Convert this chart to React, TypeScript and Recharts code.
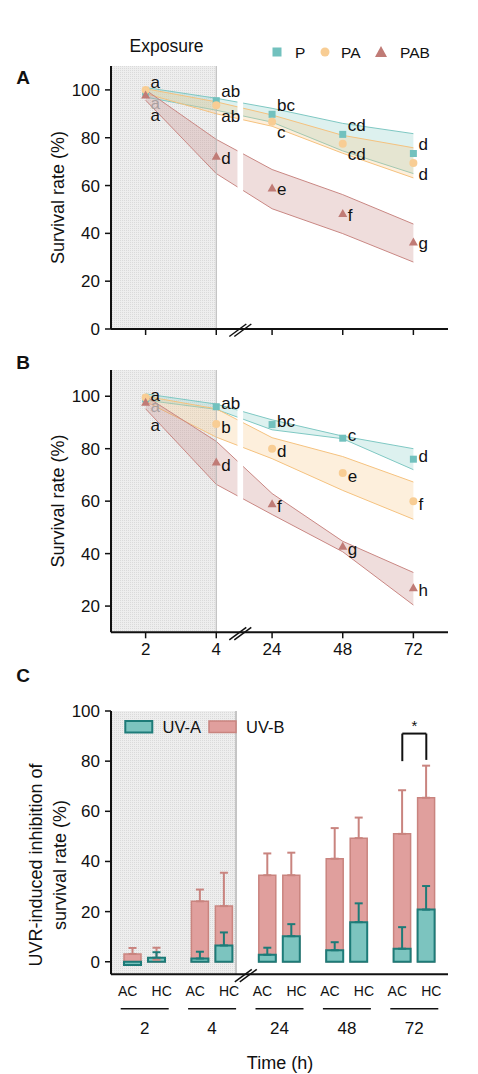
import React from 'react';
import {
  ComposedChart,
  Area,
  Scatter,
  Bar,
  ErrorBar,
  XAxis,
  YAxis,
  ReferenceArea,
  ReferenceLine,
  ReferenceDot,
} from 'recharts';

const FONT = '"Liberation Sans", Arial, sans-serif';
const INK = '#111';

// time points, and where they sit on the broken axis (4 -> 24 is compressed)
const hours = ['2', '4', '24', '48', '72'];
const hourPos = [0, 1, 1.79, 2.79, 3.79];

// Panel A
const pMeanA = [99, 95.5, 89.8, 81.4, 73.4];
const pLowA = [97, 91.5, 86.5, 74.5, 65];
const pHighA = [101, 96.5, 92.3, 86, 81.7];
const paMeanA = [100, 93.6, 86.7, 77.5, 69.4];
const paLowA = [98.5, 90, 84.8, 73.5, 63.2];
const paHighA = [100.5, 95, 89.5, 81, 75.8];
const pabMeanA = [97.9, 72.3, 59, 48.3, 36.4];
const pabLowA = [95.7, 65, 50.3, 39.9, 28];
const pabHighA = [100, 79.3, 66.7, 56.2, 43.9];
const pLettersA = ['a', 'ab', 'bc', 'cd', 'd'];
const paLettersA = ['a', 'ab', 'c', 'cd', 'd'];
const pabLettersA = ['a', 'd', 'e', 'f', 'g'];

// Panel B
const pMeanB = [99, 96, 89.2, 84, 76];
const pLowB = [98.5, 95, 87.2, 83.8, 72];
const pHighB = [100.9, 97, 91, 84.8, 80];
const paMeanB = [99.5, 89.4, 80, 70.7, 60];
const paLowB = [98, 84.4, 76.2, 64.1, 53.1];
const paHighB = [100, 95.2, 84.2, 77, 67.3];
const pabMeanB = [97.7, 74.9, 59, 42.8, 27];
const pabLowB = [95.2, 66.4, 54.9, 40.7, 20.4];
const pabHighB = [100, 82.8, 62.9, 44.7, 32.8];
const pLettersB = ['a', 'ab', 'bc', 'c', 'd'];
const paLettersB = ['a', 'b', 'd', 'e', 'f'];
const pabLettersB = ['a', 'd', 'f', 'g', 'h'];

// Panel C
const groups = ['2', '4', '24', '48', '72'];
const uvbAC = [3.1, 24.1, 34.5, 41.1, 51];
const uvbACErr = [2.4, 4.7, 8.7, 12.2, 17.4];
const uvbHC = [0.8, 22.2, 34.5, 49.3, 65.4];
const uvbHCErr = [4.8, 13.3, 9, 8.2, 12.8];
const uvaAC = [-1.3, 1.3, 2.8, 4.6, 5.2];
const uvaACErr = [0, 2.7, 2.8, 3.2, 8.6];
const uvaHC = [1.6, 6.5, 10.2, 15.8, 20.8];
const uvaHCErr = [2.2, 5.2, 4.8, 7.5, 9.4];

const seriesStyle: Record<string, any> = {
  P: { color: '#72c1be', fill: '#8fd0cb', line: '#7fc8c3', shape: 'square' },
  PA: { color: '#f8cd94', fill: '#f8c98c', line: '#f5c27f', shape: 'circle' },
  PAB: { color: '#c07b76', fill: '#c98f8a', line: '#c98783', shape: 'triangle' },
};

const seriesA = [
  { key: 'P', mean: pMeanA, low: pLowA, high: pHighA, letters: pLettersA },
  { key: 'PA', mean: paMeanA, low: paLowA, high: paHighA, letters: paLettersA },
  { key: 'PAB', mean: pabMeanA, low: pabLowA, high: pabHighA, letters: pabLettersA },
];
const seriesB = [
  { key: 'P', mean: pMeanB, low: pLowB, high: pHighB, letters: pLettersB },
  { key: 'PA', mean: paMeanB, low: paLowB, high: paHighB, letters: paLettersB },
  { key: 'PAB', mean: pabMeanB, low: pabLowB, high: pabHighB, letters: pabLettersB },
];

const xDomain: [number, number] = [-0.49, 4.28];
const gapStart = 1.3;
const gapEnd = 1.38;

function Marker({ kind, cx, cy, color }: any) {
  if (kind === 'square') return <rect x={cx - 3.5} y={cy - 3.5} width={7} height={7} fill={color} />;
  if (kind === 'circle') return <circle cx={cx} cy={cy} r={4} fill={color} />;
  return <polygon points={`${cx},${cy - 4.5} ${cx + 4.5},${cy + 3.5} ${cx - 4.5},${cy + 3.5}`} fill={color} />;
}

function makeShape(key: string, dy: number, dyFirst: number) {
  return (props: any) => {
    const { cx, cy, payload } = props;
    const st = seriesStyle[key];
    const first = payload.i === 0;
    // the PA letter at 2 h sits under the PAB band in the original, so it reads faded
    const faded = first && key === 'PA';
    return (
      <g>
        <Marker kind={st.shape} cx={cx} cy={cy} color={st.color} />
        <text
          x={cx + 5}
          y={cy + (first ? dyFirst : dy)}
          dominantBaseline="central"
          fontSize={17}
          fill={faded ? '#a9a0a0' : INK}
        >
          {payload[key + 'Letter']}
        </text>
      </g>
    );
  };
}

const BreakMark = (props: any) => {
  const { cx, cy } = props;
  return (
    <g stroke={INK} strokeWidth={1.5}>
      <line x1={cx - 11} y1={cy + 7.5} x2={cx + 6} y2={cy - 5} />
      <line x1={cx - 6} y1={cy + 7.5} x2={cx + 11} y2={cy - 5} />
    </g>
  );
};

const tickStyle = { fill: INK, fontSize: 17 };
const axisLine = { stroke: INK, strokeWidth: 2 };
const tickLine = { stroke: INK, strokeWidth: 1.5 };

function Dots({ id }: { id: string }) {
  return (
    <defs>
      <pattern id={id} width={2} height={2} patternUnits="userSpaceOnUse">
        <rect width={2} height={2} fill="#eeeeee" />
        <rect width={1} height={1} fill="#dadada" />
      </pattern>
    </defs>
  );
}

function SurvivalPanel({ id, series, yMin, yTicks, showLabels, dy, dyFirst, height, marginTop, marginBottom }: any) {
  const rows = hours.map((h, i) => {
    const r: any = { x: hourPos[i], i, hour: h };
    series.forEach((s: any) => {
      r[s.key] = s.mean[i];
      r[s.key + 'Band'] = [s.low[i], s.high[i]];
      r[s.key + 'Letter'] = s.letters[i];
    });
    return r;
  });
  return (
    <ComposedChart
      width={478}
      height={height}
      data={rows}
      margin={{ top: marginTop, right: 30, bottom: marginBottom, left: 51 }}
    >
      <Dots id={id} />
      <XAxis
        dataKey="x"
        type="number"
        domain={xDomain}
        ticks={hourPos}
        allowDataOverflow
        interval={0}
        height={30}
        tickSize={6}
        tickMargin={5}
        tick={tickStyle}
        axisLine={axisLine}
        tickLine={tickLine}
        tickFormatter={(v: any, i: number) => (showLabels ? hours[i] : '')}
      />
      <YAxis
        type="number"
        domain={[yMin, 110]}
        ticks={yTicks}
        allowDataOverflow
        width={60}
        tickSize={6}
        tickMargin={5}
        tick={tickStyle}
        axisLine={axisLine}
        tickLine={tickLine}
      />
      <ReferenceArea x1={xDomain[0]} x2={1} y1={yMin} y2={110} fill={`url(#${id})`} fillOpacity={1} />
      <ReferenceLine x={1} stroke="#b5b5b5" strokeWidth={1} />
      {series.map((s: any) => (
        <Area
          key={s.key + 'band'}
          dataKey={s.key + 'Band'}
          type="linear"
          stroke={seriesStyle[s.key].line}
          strokeWidth={1}
          fill={seriesStyle[s.key].fill}
          fillOpacity={0.3}
          dot={false}
          activeDot={false}
          isAnimationActive={false}
        />
      ))}
      <ReferenceArea x1={gapStart} x2={gapEnd} y1={yMin + 0.5} y2={110} fill="#ffffff" fillOpacity={1} stroke="none" />
      <ReferenceDot x={(gapStart + gapEnd) / 2} y={yMin} shape={BreakMark} ifOverflow="visible" />
      {series.map((s: any) => (
        <Scatter
          key={s.key}
          dataKey={s.key}
          shape={makeShape(s.key, dy[s.key], dyFirst[s.key])}
          isAnimationActive={false}
        />
      ))}
    </ComposedChart>
  );
}

function GroupTick(props: any) {
  const { x, y, payload } = props;
  return (
    <g transform={`translate(${x},${y})`}>
      <text x={-17} y={17} textAnchor="middle" dominantBaseline="central" fontSize={14} fill={INK}>
        AC
      </text>
      <text x={17} y={17} textAnchor="middle" dominantBaseline="central" fontSize={14} fill={INK}>
        HC
      </text>
      <line x1={-24} x2={24} y1={34.5} y2={34.5} stroke={INK} strokeWidth={1.5} />
      <text x={0} y={54.5} textAnchor="middle" dominantBaseline="central" fontSize={17} fill={INK}>
        {payload.value}
      </text>
    </g>
  );
}

const UVA = { fill: '#7cc4bf', stroke: '#1d7b78' };
const UVB = { fill: '#e09f9d', stroke: '#c9847f' };
const exposureEnd = 1.855; // grey box ends just before the 4 -> 24 break
const pairOffset = 12 / 67.4; // AC/HC bar centres relative to the group centre

function InhibitionPanel() {
  const rows = groups.map((g, i) => ({
    g,
    pos: i + 0.5,
    uvbAC: uvbAC[i],
    uvbACErr: [0, uvbACErr[i]],
    uvbHC: uvbHC[i],
    uvbHCErr: [0, uvbHCErr[i]],
    uvaAC: uvaAC[i],
    uvaACErr: [0, uvaACErr[i]],
    uvaHC: uvaHC[i],
    uvaHCErr: [0, uvaHCErr[i]],
  }));
  const acX = 4.5 - pairOffset;
  const hcX = 4.5 + pairOffset;
  return (
    <ComposedChart
      width={478}
      height={394}
      data={rows}
      barGap={7}
      barSize={17}
      margin={{ top: 31, right: 30, bottom: 29.7, left: 51 }}
    >
      <Dots id="dotsC" />
      <XAxis
        xAxisId="b"
        dataKey="g"
        type="category"
        height={70}
        interval={0}
        tickLine={false}
        tickSize={0}
        tickMargin={0}
        axisLine={axisLine}
        tick={<GroupTick />}
      />
      <XAxis xAxisId="a" dataKey="g" type="category" orientation="top" height={0} hide />
      <XAxis xAxisId="n" dataKey="pos" type="number" domain={[0, 5]} orientation="top" height={0} allowDataOverflow hide />
      <YAxis
        type="number"
        domain={[-5, 100]}
        ticks={[0, 20, 40, 60, 80, 100]}
        allowDataOverflow
        width={60}
        tickSize={6}
        tickMargin={5}
        tick={tickStyle}
        axisLine={axisLine}
        tickLine={tickLine}
      />
      <ReferenceArea xAxisId="n" x1={0} x2={exposureEnd} y1={-5} y2={100} fill="url(#dotsC)" fillOpacity={1} />
      <ReferenceLine xAxisId="n" x={exposureEnd} stroke="#b5b5b5" strokeWidth={1.5} />
      <Bar xAxisId="b" dataKey="uvbAC" barSize={17} fill={UVB.fill} stroke={UVB.stroke} strokeWidth={1.5} isAnimationActive={false}>
        <ErrorBar dataKey="uvbACErr" width={4} stroke={UVB.stroke} strokeWidth={2} direction="y" />
      </Bar>
      <Bar xAxisId="b" dataKey="uvbHC" barSize={17} fill={UVB.fill} stroke={UVB.stroke} strokeWidth={1.5} isAnimationActive={false}>
        <ErrorBar dataKey="uvbHCErr" width={4} stroke={UVB.stroke} strokeWidth={2} direction="y" />
      </Bar>
      <Bar xAxisId="a" dataKey="uvaAC" barSize={17} fill={UVA.fill} stroke={UVA.stroke} strokeWidth={2} isAnimationActive={false}>
        <ErrorBar dataKey="uvaACErr" width={4} stroke={UVA.stroke} strokeWidth={2} direction="y" />
      </Bar>
      <Bar xAxisId="a" dataKey="uvaHC" barSize={17} fill={UVA.fill} stroke={UVA.stroke} strokeWidth={2} isAnimationActive={false}>
        <ErrorBar dataKey="uvaHCErr" width={4} stroke={UVA.stroke} strokeWidth={2} direction="y" />
      </Bar>
      <ReferenceLine xAxisId="n" segment={[{ x: acX, y: 80 }, { x: acX, y: 91 }]} stroke={INK} strokeWidth={2} ifOverflow="visible" />
      <ReferenceLine xAxisId="n" segment={[{ x: acX, y: 91 }, { x: hcX, y: 91 }]} stroke={INK} strokeWidth={2} ifOverflow="visible" />
      <ReferenceLine xAxisId="n" segment={[{ x: hcX, y: 91 }, { x: hcX, y: 80.5 }]} stroke={INK} strokeWidth={2} ifOverflow="visible" />
      <ReferenceDot
        xAxisId="n"
        x={4.5}
        y={96}
        ifOverflow="visible"
        shape={(p: any) => (
          <text x={p.cx} y={p.cy + 4} textAnchor="middle" dominantBaseline="central" fontSize={15} fill={INK}>
            *
          </text>
        )}
      />
      <ReferenceDot xAxisId="n" x={2} y={-5} shape={BreakMark} ifOverflow="visible" />
    </ComposedChart>
  );
}

const legendA = [
  { key: 'P', mx: 277, tx: 295 },
  { key: 'PA', mx: 325, tx: 341 },
  { key: 'PAB', mx: 381, tx: 400 },
];

function Overlay() {
  return (
    <svg
      width={478}
      height={1074}
      style={{ position: 'absolute', left: 0, top: 0, pointerEvents: 'none' }}
      fontFamily={FONT}
    >
      <g fill={INK}>
        <text x={23} y={77} textAnchor="middle" dominantBaseline="central" fontSize={19} fontWeight="bold">A</text>
        <text x={23} y={362} textAnchor="middle" dominantBaseline="central" fontSize={19} fontWeight="bold">B</text>
        <text x={23} y={675} textAnchor="middle" dominantBaseline="central" fontSize={19} fontWeight="bold">C</text>
        <text x={166.5} y={46} textAnchor="middle" dominantBaseline="central" fontSize={17.5}>Exposure</text>
        <text transform="translate(57.5,197.5) rotate(-90)" textAnchor="middle" dominantBaseline="central" fontSize={18}>
          Survival rate (%)
        </text>
        <text transform="translate(58,501) rotate(-90)" textAnchor="middle" dominantBaseline="central" fontSize={18}>
          Survival rate (%)
        </text>
        <text transform="translate(35.5,865) rotate(-90)" textAnchor="middle" dominantBaseline="central" fontSize={18}>
          UVR-induced inhibition of
        </text>
        <text transform="translate(60,865) rotate(-90)" textAnchor="middle" dominantBaseline="central" fontSize={18}>
          survival rate (%)
        </text>
        <text x={280} y={1063} textAnchor="middle" dominantBaseline="central" fontSize={18}>Time (h)</text>
      </g>
      {legendA.map((l) => {
        const st = seriesStyle[l.key];
        return (
          <g key={l.key}>
            {st.shape === 'square' && <rect x={l.mx - 4.5} y={47.5} width={9} height={9} fill={st.color} />}
            {st.shape === 'circle' && <circle cx={l.mx} cy={52} r={4.5} fill={st.color} />}
            {st.shape === 'triangle' && (
              <polygon points={`${l.mx},${46} ${l.mx + 6},${57} ${l.mx - 6},${57}`} fill={st.color} />
            )}
            <text x={l.tx} y={52.5} dominantBaseline="central" fontSize={15.5} fill={INK}>{l.key}</text>
          </g>
        );
      })}
      <rect x={125.3} y={721} width={27} height={11.5} fill={UVA.fill} stroke={UVA.stroke} strokeWidth={2} />
      <text x={162.5} y={727} dominantBaseline="central" fontSize={16.5} fill={INK}>UV-A</text>
      <rect x={209} y={721} width={27} height={11.5} fill={UVB.fill} stroke={UVB.stroke} strokeWidth={1.5} />
      <text x={246} y={727} dominantBaseline="central" fontSize={16.5} fill={INK}>UV-B</text>
    </svg>
  );
}

export default function App() {
  return (
    <div style={{ position: 'absolute', left: 0, top: 0, width: 478, height: 1074, background: '#fff', fontFamily: FONT }}>
      <div style={{ position: 'absolute', left: 0, top: 0 }}>
        <SurvivalPanel
          id="dotsA"
          series={seriesA}
          yMin={0}
          yTicks={[0, 20, 40, 60, 80, 100]}
          showLabels={false}
          dy={{ P: -9, PA: 11, PAB: 2 }}
          dyFirst={{ P: -10, PA: 14, PAB: 21 }}
          height={350}
          marginTop={66}
          marginBottom={-9}
        />
      </div>
      <div style={{ position: 'absolute', left: 0, top: 340 }}>
        <SurvivalPanel
          id="dotsB"
          series={seriesB}
          yMin={10}
          yTicks={[20, 40, 60, 80, 100]}
          showLabels
          dy={{ P: -3, PA: 3, PAB: 3 }}
          dyFirst={{ P: -3, PA: 9, PAB: 23 }}
          height={330}
          marginTop={30}
          marginBottom={7.7}
        />
      </div>
      <div style={{ position: 'absolute', left: 0, top: 680 }}>
        <InhibitionPanel />
      </div>
      <Overlay />
    </div>
  );
}
